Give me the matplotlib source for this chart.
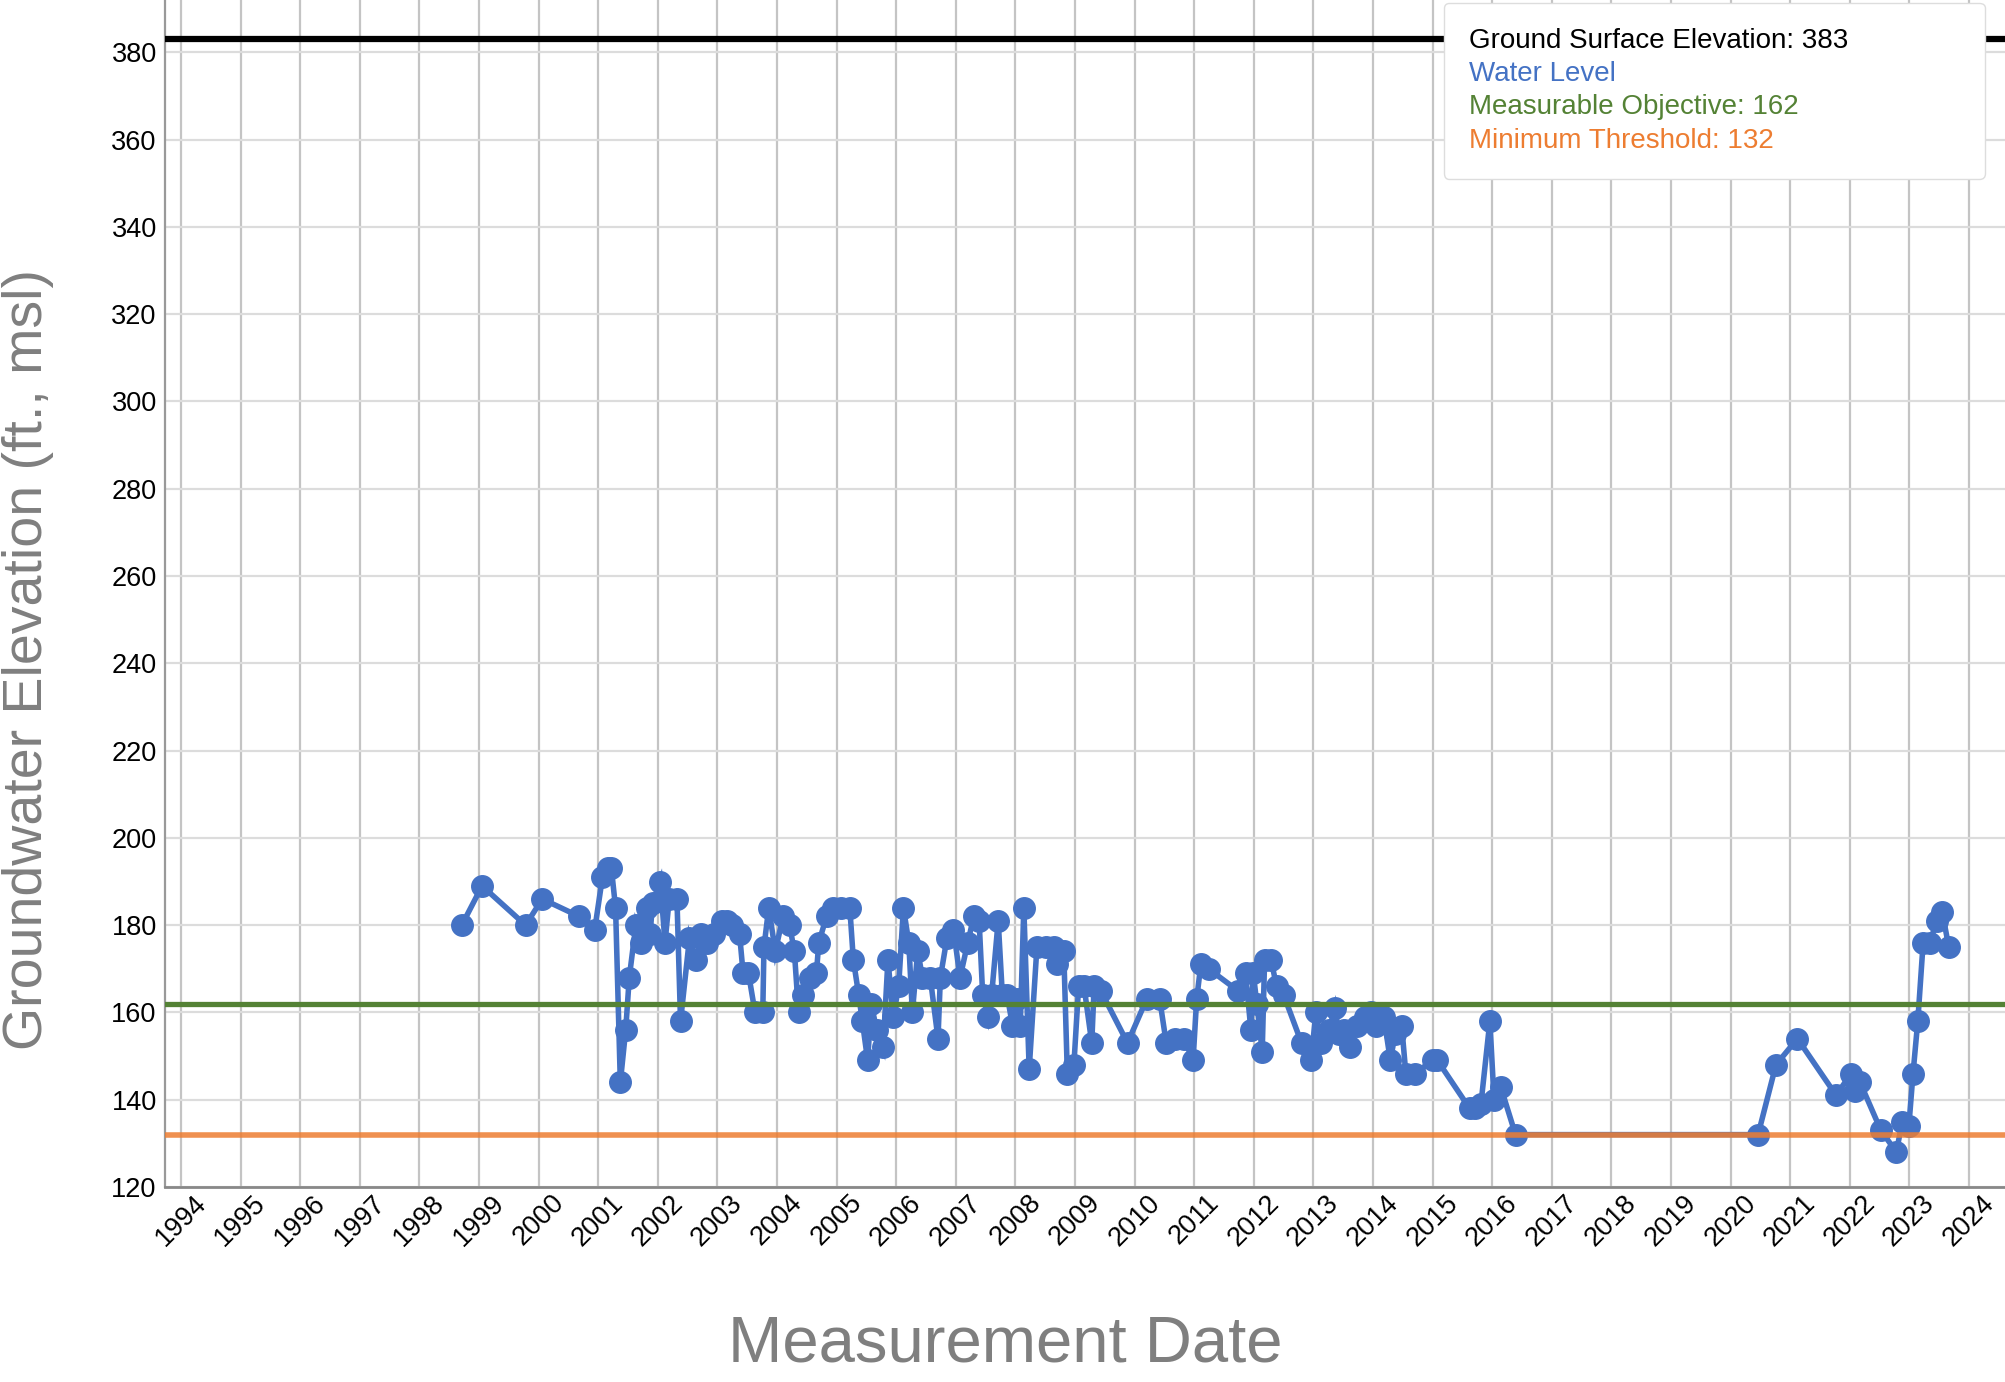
import matplotlib
matplotlib.use('Agg')
import matplotlib.pyplot as plt
from matplotlib.lines import Line2D

plt.rcParams['font.family'] = ['Liberation Sans', 'DejaVu Sans']

# measurement dates as decimal years, and water level (ft msl)
dates = [1998.71, 1999.05, 1999.78, 2000.06, 2000.68, 2000.94, 2001.07, 2001.16, 2001.22, 2001.29,
         2001.37, 2001.46, 2001.52, 2001.63, 2001.72, 2001.82, 2001.87, 2001.91, 2002.04, 2002.12,
         2002.19, 2002.32, 2002.38, 2002.53, 2002.64, 2002.73, 2002.83, 2002.94, 2003.07, 2003.16,
         2003.24, 2003.37, 2003.43, 2003.52, 2003.63, 2003.76, 2003.78, 2003.86, 2003.97, 2004.10,
         2004.21, 2004.29, 2004.36, 2004.44, 2004.55, 2004.66, 2004.70, 2004.83, 2004.94, 2005.07,
         2005.22, 2005.28, 2005.37, 2005.43, 2005.52, 2005.58, 2005.67, 2005.78, 2005.86, 2005.95,
         2006.04, 2006.12, 2006.21, 2006.27, 2006.36, 2006.44, 2006.57, 2006.70, 2006.74, 2006.85,
         2006.96, 2007.07, 2007.20, 2007.30, 2007.39, 2007.45, 2007.54, 2007.60, 2007.71, 2007.78,
         2007.86, 2007.95, 2008.03, 2008.08, 2008.14, 2008.23, 2008.36, 2008.51, 2008.64, 2008.70,
         2008.81, 2008.87, 2008.98, 2009.06, 2009.15, 2009.28, 2009.32, 2009.43, 2009.88, 2010.20,
         2010.42, 2010.53, 2010.68, 2010.83, 2010.98, 2011.04, 2011.11, 2011.24, 2011.73, 2011.86,
         2011.95, 2011.99, 2012.05, 2012.14, 2012.18, 2012.29, 2012.38, 2012.50, 2012.80, 2012.96,
         2013.04, 2013.13, 2013.26, 2013.36, 2013.43, 2013.51, 2013.62, 2013.73, 2013.86, 2013.97,
         2014.05, 2014.18, 2014.29, 2014.37, 2014.48, 2014.55, 2014.70, 2015.00, 2015.08, 2015.62,
         2015.71, 2015.81, 2015.96, 2016.03, 2016.14, 2016.39, 2020.46, 2020.76, 2021.12, 2021.77,
         2022.02, 2022.09, 2022.17, 2022.52, 2022.78, 2022.88, 2022.99, 2023.06, 2023.14, 2023.23,
         2023.34, 2023.46, 2023.55, 2023.66]
levels = [180, 189, 180, 186, 182, 179, 191, 193, 193, 184,
          144, 156, 168, 180, 176, 184, 178, 185, 190, 176,
          186, 186, 158, 177, 172, 178, 176, 178, 181, 181,
          180, 178, 169, 169, 160, 160, 175, 184, 174, 182,
          180, 174, 160, 164, 168, 169, 176, 182, 184, 184,
          184, 172, 164, 158, 149, 162, 156, 152, 172, 159,
          166, 184, 176, 160, 174, 168, 168, 154, 168, 177,
          179, 168, 176, 182, 181, 164, 159, 164, 181, 164,
          164, 157, 163, 157, 184, 147, 175, 175, 175, 171,
          174, 146, 148, 166, 166, 153, 166, 165, 153, 163,
          163, 153, 154, 154, 149, 163, 171, 170, 165, 169,
          156, 169, 162, 151, 172, 172, 166, 164, 153, 149,
          160, 153, 156, 161, 155, 156, 152, 157, 159, 160,
          157, 159, 149, 155, 157, 146, 146, 149, 149, 138,
          138, 139, 158, 140, 143, 132, 132, 148, 154, 141,
          146, 142, 144, 133, 128, 135, 134, 146, 158, 176,
          176, 181, 183, 175]

ground_surface = 383
measurable_objective = 162
minimum_threshold = 132
years = list(range(1994, 2025))
yticks = list(range(120, 381, 20))

legend_labels = ['Ground Surface Elevation: %d' % ground_surface,
                 'Water Level',
                 'Measurable Objective: %d' % measurable_objective,
                 'Minimum Threshold: %d' % minimum_threshold]

blue = '#4472C4'
green = '#548235'
orange = '#ED7D31'

fig = plt.figure(figsize=(20.06, 13.82), dpi=100)
ax = fig.add_axes([165 / 2006, 1 - 1187 / 1382, 1 - 165 / 2006, 1187 / 1382])

ax.set_xlim(1993.73, 2024.62)
ax.set_ylim(120, 392)

ax.axhline(ground_surface, color='black', lw=4.5, zorder=3)
ax.plot(dates, levels, color=blue, lw=4, marker='o', ms=15.5, solid_joinstyle='miter', zorder=4)
ax.axhline(measurable_objective, color=green, lw=3.8, zorder=5)
ax.axhline(minimum_threshold, color=orange, lw=4, alpha=0.85, zorder=5)

ax.set_xticks(years)
ax.set_xticklabels([str(y) for y in years], rotation=45, ha='center', va='top', fontsize=19.5)
ax.set_yticks(yticks)
ax.set_yticklabels([str(v) for v in yticks], fontsize=19.5)
ax.tick_params(axis='both', length=0)
ax.tick_params(axis='y', pad=6)
ax.tick_params(axis='x', pad=2)

ax.grid(axis='x', color='#c4c4c4', lw=1.6)
ax.grid(axis='y', color='#dcdcdc', lw=1.6)
ax.set_axisbelow(True)

for side in ['top', 'right']:
    ax.spines[side].set_visible(False)
ax.spines['left'].set_color('#999999')
ax.spines['left'].set_linewidth(1.6)
ax.spines['bottom'].set_color('#888888')
ax.spines['bottom'].set_linewidth(2)

handles = [Line2D([], [], linestyle='none') for _ in legend_labels]
leg = ax.legend(handles, legend_labels, loc='upper left',
                bbox_to_anchor=(0.6947, 0.839, 0.2939, 0.1586), mode='expand',
                borderaxespad=0, handlelength=0, handletextpad=0, borderpad=0.9,
                labelspacing=0.26, fontsize=20, fancybox=True, framealpha=1,
                edgecolor='#dddddd')
leg.set_zorder(10)
for text, col in zip(leg.get_texts(), ['black', blue, green, orange]):
    text.set_color(col)

fig.text(28 / 2006, 1 - 659 / 1382, 'Groundwater Elevation (ft., msl)', rotation=90,
         ha='center', va='center', fontsize=40, color='#7f7f7f')
fig.text(1005 / 2006, 1 - 1345 / 1382, 'Measurement Date', ha='center', va='center',
         fontsize=47, color='#7f7f7f')

fig.savefig('out.png', dpi=100)
